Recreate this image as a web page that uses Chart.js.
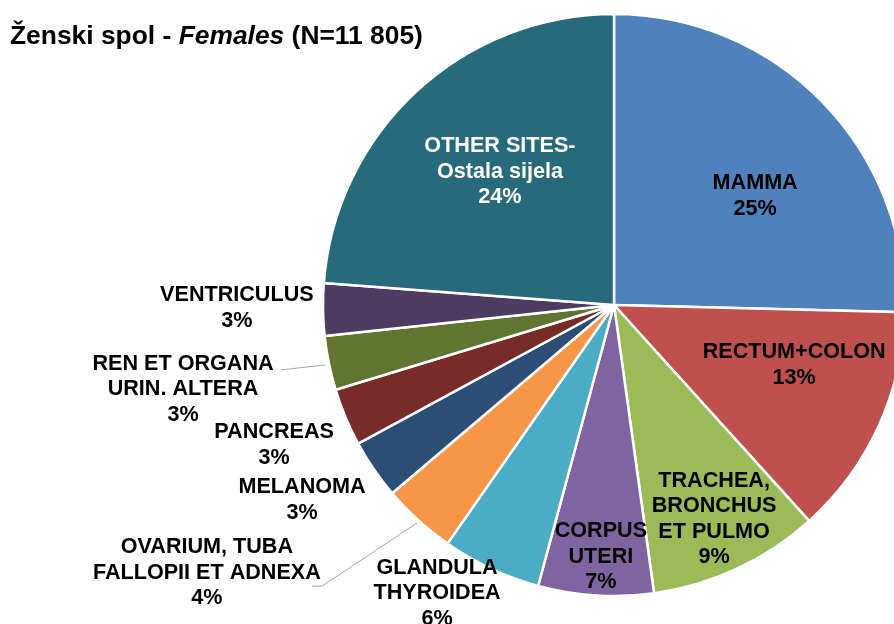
<!DOCTYPE html>
<html>
<head>
<meta charset="utf-8">
<script src="https://cdn.jsdelivr.net/npm/chart.js@4/dist/chart.umd.min.js"></script>
<style>
  body { margin: 0; background: #fff; }
  canvas { display: block; }
</style>
</head>
<body>
<canvas id="chart" width="894" height="624"></canvas>
<script>
// Cancer sites, females (N=11 805)
const sites = ['MAMMA', 'RECTUM+COLON', 'TRACHEA, BRONCHUS ET PULMO', 'CORPUS UTERI',
    'GLANDULA THYROIDEA', 'OVARIUM, TUBA FALLOPII ET ADNEXA', 'MELANOMA', 'PANCREAS',
    'REN ET ORGANA URIN. ALTERA', 'VENTRICULUS', 'OTHER SITES-Ostala sijela'];
const labelLines = [['MAMMA'], ['RECTUM+COLON'], ['TRACHEA,', 'BRONCHUS', 'ET PULMO'],
    ['CORPUS', 'UTERI'], ['GLANDULA', 'THYROIDEA'], ['OVARIUM, TUBA', 'FALLOPII ET ADNEXA'],
    ['MELANOMA'], ['PANCREAS'], ['REN ET ORGANA', 'URIN. ALTERA'], ['VENTRICULUS'],
    ['OTHER SITES-', 'Ostala sijela']];
const shares = [25.4, 12.9, 9.5, 6.4, 5.5, 4.1, 3.3, 3.2, 3.0, 2.9, 23.8];
const shareLabels = ['25%', '13%', '9%', '7%', '6%', '4%', '3%', '3%', '3%', '3%', '24%'];

const colors = ['#4F81BD', '#C0504D', '#9BBB59', '#8064A2', '#4BACC6', '#F79646',
    '#2C4D75', '#772C2A', '#5F7530', '#4D3B62', '#276A7C'];

// label block centres relative to the pie centre, in radius units
const labelAnchors = [[0.485, -0.375], [0.619, 0.206], [0.344, 0.735], [-0.045, 0.866],
    [-0.608, 0.990], [-1.399, 0.921], [-1.072, 0.670], [-1.168, 0.481],
    [-1.481, 0.289], [-1.296, 0.010], [-0.392, -0.457]];
const labelColors = ['#000', '#000', '#000', '#000', '#000', '#000', '#000', '#000', '#000', '#000', '#fff'];
// leader lines, same units
const leaders = [
    [[-1.144, 0.223], [-0.993, 0.206]],
    [[-1.038, 0.966], [-1.003, 0.966], [-0.677, 0.749]]
];

const FONT = '"Liberation Sans", Arial, sans-serif';

const labelPlugin = {
    id: 'pieLabels',
    afterDraw(chart) {
        const ctx = chart.ctx;
        const arc = chart.getDatasetMeta(0).data[0];
        const cx = arc.x, cy = arc.y, R = arc.outerRadius;

        ctx.save();
        // title with italic part
        ctx.fillStyle = '#000';
        ctx.textBaseline = 'alphabetic';
        ctx.textAlign = 'left';
        const parts = [['Ženski spol - ', 'bold'], ['Females', 'italic bold'], [' (N=11 805)', 'bold']];
        let x = 10;
        parts.forEach(([t, style]) => {
            ctx.font = style + ' 26.4px ' + FONT;
            ctx.fillText(t, x, 44);
            x += ctx.measureText(t).width;
        });

        // leader lines
        ctx.strokeStyle = '#a6a6a6';
        ctx.lineWidth = 1;
        leaders.forEach(pts => {
            ctx.beginPath();
            pts.forEach(([fx, fy], i) => {
                const px = cx + fx * R, py = cy + fy * R;
                i ? ctx.lineTo(px, py) : ctx.moveTo(px, py);
            });
            ctx.stroke();
        });

        // slice labels
        ctx.font = 'bold 21.6px ' + FONT;
        ctx.textAlign = 'center';
        ctx.textBaseline = 'middle';
        const lh = 25.5;
        labelLines.forEach((lines, i) => {
            const all = lines.concat([shareLabels[i]]);
            const bx = cx + labelAnchors[i][0] * R;
            const by = cy + labelAnchors[i][1] * R - (all.length - 1) * lh / 2;
            ctx.fillStyle = labelColors[i];
            all.forEach((t, j) => ctx.fillText(t, bx, by + j * lh));
        });
        ctx.restore();
    }
};

new Chart(document.getElementById('chart'), {
    type: 'pie',
    data: {
        labels: sites,
        datasets: [{
            data: shares,
            backgroundColor: colors,
            borderColor: '#fff',
            borderWidth: 2.5
        }]
    },
    options: {
        responsive: false,
        animation: false,
        radius: 291,
        layout: { padding: { left: 334, right: 0, top: 0, bottom: 14 } },
        plugins: {
            legend: { display: false },
            tooltip: { enabled: false },
            title: { display: false }
        }
    },
    plugins: [labelPlugin]
});
</script>
</body>
</html>
